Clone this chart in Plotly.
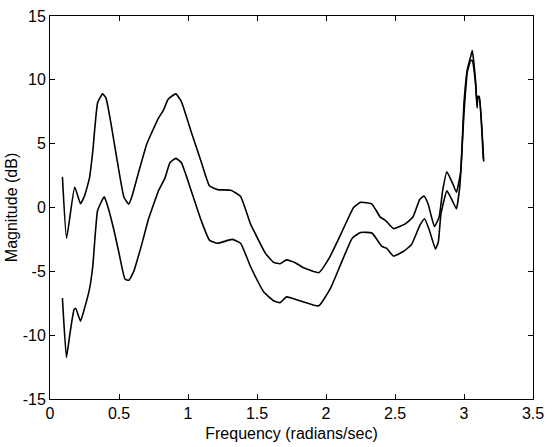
import plotly.graph_objects as go

upper_x = [0.09, 0.12, 0.179, 0.221, 0.25, 0.286, 0.31, 0.345, 0.381, 0.405,
           0.44, 0.488, 0.536, 0.571, 0.595, 0.643, 0.702, 0.786, 0.821, 0.857,
           0.912, 0.952, 1.024, 1.095, 1.155, 1.214, 1.31, 1.381, 1.452, 1.476,
           1.56, 1.62, 1.667, 1.714, 1.774, 1.833, 1.948, 2.024, 2.12, 2.2,
           2.25, 2.333, 2.393, 2.43, 2.488, 2.571, 2.63, 2.68, 2.71, 2.74,
           2.786, 2.82, 2.845, 2.876, 2.917, 2.945, 2.976, 3.0, 3.024, 3.048,
           3.06, 3.083, 3.095, 3.10, 3.11, 3.143]
upper_y = [2.4, -2.4, 1.6, 0.3, 0.9, 2.3, 4.4, 8.2, 8.9, 8.6,
           6.7, 3.6, 0.8, 0.27, 0.9, 2.8, 5.0, 7.0, 7.6, 8.5,
           8.9, 8.3, 5.9, 3.6, 1.7, 1.4, 1.35, 0.86, -1.27, -1.8,
           -3.57, -4.3, -4.4, -4.1, -4.3, -4.7, -5.1, -3.95, -1.8, 0.0,
           0.4, 0.27, -0.75, -1.0, -1.65, -1.3, -0.75, 0.65, 0.9, 0.27,
           -1.5, -0.75, 1.3, 2.8, 1.9, 1.2, 2.8, 8.2, 10.8, 11.8,
           12.3, 10.0, 7.8, 8.7, 8.7, 3.6]

lower_x = [0.09, 0.119, 0.143, 0.174, 0.186, 0.221, 0.25, 0.286, 0.31, 0.345,
           0.393, 0.417, 0.464, 0.5, 0.543, 0.571, 0.607, 0.667, 0.714, 0.786,
           0.833, 0.869, 0.912, 0.952, 1.024, 1.095, 1.155, 1.214, 1.321, 1.381,
           1.452, 1.548, 1.62, 1.667, 1.714, 1.81, 1.948, 2.036, 2.12, 2.19,
           2.25, 2.333, 2.405, 2.44, 2.488, 2.56, 2.62, 2.68, 2.714, 2.75,
           2.793, 2.814, 2.833, 2.876, 2.917, 2.945, 2.97, 3.0, 3.024, 3.048,
           3.06, 3.083, 3.095, 3.10, 3.11, 3.14]
lower_y = [-7.1, -11.75, -10.0, -8.0, -7.9, -8.9, -7.9, -6.4, -4.6, -0.24,
           0.83, 0.14, -1.8, -3.57, -5.6, -5.7, -5.0, -2.8, -0.9, 1.3,
           2.3, 3.5, 3.85, 3.5, 1.3, -1.0, -2.55, -2.8, -2.5, -2.8,
           -4.6, -6.6, -7.3, -7.45, -7.0, -7.3, -7.7, -6.25, -4.1, -2.4,
           -1.96, -2.0, -3.05, -3.2, -3.8, -3.45, -2.9, -1.4, -0.88, -1.8,
           -3.26, -2.7, -0.5, 1.3, 0.5, -0.1, 1.7, 7.4, 10.6, 11.5,
           11.5, 9.8, 8.0, 8.6, 8.6, 3.8]

x_ticks = [0, 0.5, 1, 1.5, 2, 2.5, 3, 3.5]
x_tick_labels = ["0", "0.5", "1", "1.5", "2", "2.5", "3", "3.5"]
y_ticks = [-15, -10, -5, 0, 5, 10, 15]
y_tick_labels = ["-15", "-10", "-5", "0", "5", "10", "15"]

fig = go.Figure()
for xs, ys in [(upper_x, upper_y), (lower_x, lower_y)]:
    fig.add_trace(go.Scatter(x=xs, y=ys, mode="lines",
                             line=dict(color="black", width=1.6,
                                       shape="spline", smoothing=0.4),
                             showlegend=False, hoverinfo="skip"))

axis_common = dict(showgrid=False, zeroline=False, showline=True,
                   linecolor="black", linewidth=1, mirror="ticks",
                   ticks="inside", ticklen=5, tickcolor="black", tickwidth=1,
                   tickfont=dict(family="Liberation Sans, Arial", size=16, color="black"))

fig.update_layout(
    width=552, height=447,
    margin=dict(l=50, r=12, t=8, b=48),
    paper_bgcolor="white", plot_bgcolor="white",
    font=dict(family="Liberation Sans, Arial", size=16, color="black"),
    xaxis=dict(range=[0, 3.5], tickvals=x_ticks, ticktext=x_tick_labels,
               title=dict(text="Frequency (radians/sec)", standoff=6,
                          font=dict(size=16)), **axis_common),
    yaxis=dict(range=[-15, 15], tickvals=y_ticks, ticktext=y_tick_labels,
               title=dict(text="Magnitude (dB)", standoff=1,
                          font=dict(size=16)), **axis_common),
)

fig.write_html("out.html")
